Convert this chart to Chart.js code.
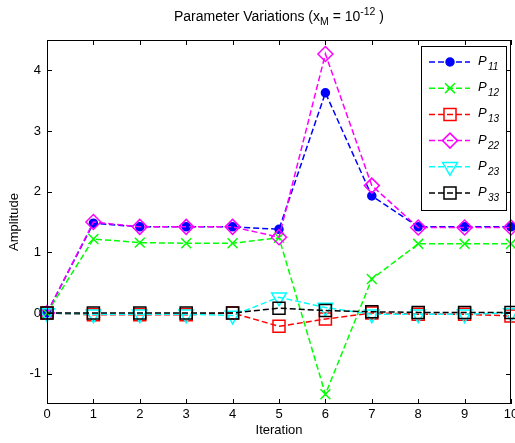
<!DOCTYPE html>
<html>
<head>
<meta charset="utf-8">
<script src="https://cdn.jsdelivr.net/npm/chart.js@4.4.1/dist/chart.umd.min.js"></script>
<style>
  html, body { margin: 0; padding: 0; background: #fff; }
</style>
</head>
<body>
<canvas id="chart" width="515" height="443"></canvas>
<script>
// données
const iterations = [0, 1, 2, 3, 4, 5, 6, 7, 8, 9, 10];
const p11 = [0, 1.48, 1.42, 1.42, 1.42, 1.38, 3.63, 1.93, 1.42, 1.42, 1.42];
const p12 = [0, 1.22, 1.16, 1.15, 1.15, 1.24, -1.34, 0.56, 1.14, 1.14, 1.14];
const p13 = [0, -0.03, -0.03, -0.03, 0, -0.22, -0.1, 0, -0.02, -0.02, -0.05];
const p22 = [0, 1.5, 1.42, 1.42, 1.42, 1.25, 4.27, 2.1, 1.41, 1.41, 1.41];
const p23 = [0, -0.02, -0.02, -0.02, -0.04, 0.26, 0.09, -0.02, -0.02, -0.02, 0];
const p33 = [0, 0, 0, 0, 0, 0.08, 0.04, 0.02, 0.01, 0.01, 0.01];

const xTicks = [0, 1, 2, 3, 4, 5, 6, 7, 8, 9, 10];
const yTicks = [-1, 0, 1, 2, 3, 4];

const titleMain = "Parameter Variations (x";
const titleSub = "M";
const titleMid = " = 10";
const titleSup = "-12";
const titleEnd = " )";

const FONT = '"Liberation Sans", Arial, Helvetica, sans-serif';

// sous-indice, couleur, style de point
const series = [
  { sub: "11", data: p11, color: "#0000ff", style: "circle", r: 4, fill: true },
  { sub: "12", data: p12, color: "#00ff00", style: "crossRot", r: 7, fill: false },
  { sub: "13", data: p13, color: "#ff0000", style: "rect", r: 8.5, fill: false },
  { sub: "22", data: p22, color: "#ff00ff", style: "rectRot", r: 7.5, fill: false },
  { sub: "23", data: p23, color: "#00ffff", style: "triangle", r: 8.5, fill: false },
  { sub: "33", data: p33, color: "#000000", style: "rect", r: 8.5, fill: false }
];

const datasets = series.map((s, i) => ({
  label: "P" + s.sub,
  data: s.data.map((v, k) => ({ x: iterations[k], y: v })),
  borderColor: s.color,
  borderWidth: 1.5,
  borderDash: [6, 3],
  pointStyle: s.style,
  pointRadius: s.r,
  pointRotation: s.style === "triangle" ? 180 : 0,
  pointBorderColor: s.color,
  pointBackgroundColor: s.fill ? s.color : "rgba(0,0,0,0)",
  pointBorderWidth: 1.5,
  order: series.length - i,
  clip: false,
  tension: 0
}));

// cadre, graduations intérieures, titre et légende façon MATLAB
const matlabDecor = {
  id: "matlabDecor",
  afterDatasetsDraw(chart) {
    const { ctx, chartArea: a, scales } = chart;
    ctx.save();
    ctx.strokeStyle = "#000";
    ctx.lineWidth = 1;
    ctx.setLineDash([]);
    ctx.strokeRect(a.left + 0.5, a.top + 0.5, a.right - a.left - 1, a.bottom - a.top - 1);
    ctx.beginPath();
    xTicks.forEach(v => {
      const px = Math.round(scales.x.getPixelForValue(v)) + 0.5;
      ctx.moveTo(px, a.bottom); ctx.lineTo(px, a.bottom - 5);
      ctx.moveTo(px, a.top); ctx.lineTo(px, a.top + 5);
    });
    yTicks.forEach(v => {
      const py = Math.round(scales.y.getPixelForValue(v)) + 0.5;
      ctx.moveTo(a.left, py); ctx.lineTo(a.left + 5, py);
      ctx.moveTo(a.right, py); ctx.lineTo(a.right - 5, py);
    });
    ctx.stroke();

    // étiquettes de l'axe x (dessinées ici pour que "10" déborde comme l'original)
    ctx.fillStyle = "#000";
    ctx.font = "13px " + FONT;
    ctx.textAlign = "center";
    ctx.textBaseline = "top";
    xTicks.forEach(v => {
      ctx.fillText(String(v), scales.x.getPixelForValue(v), a.bottom + 4);
    });
    ctx.restore();
  },
  afterDraw(chart) {
    const { ctx, chartArea: a } = chart;
    ctx.save();
    ctx.fillStyle = "#000";
    ctx.textBaseline = "alphabetic";

    // titre
    const big = "14px " + FONT, small = "10.5px " + FONT;
    ctx.font = big;
    const w1 = ctx.measureText(titleMain).width;
    const w3 = ctx.measureText(titleMid).width;
    const w5 = ctx.measureText(titleEnd).width;
    ctx.font = small;
    const w2 = ctx.measureText(titleSub).width;
    const w4 = ctx.measureText(titleSup).width;
    let x = (a.left + a.right) / 2 - (w1 + w2 + w3 + w4 + w5) / 2;
    const base = 21;
    ctx.textAlign = "left";
    ctx.font = big; ctx.fillText(titleMain, x, base); x += w1;
    ctx.font = small; ctx.fillText(titleSub, x, base + 4); x += w2;
    ctx.font = big; ctx.fillText(titleMid, x, base); x += w3;
    ctx.font = small; ctx.fillText(titleSup, x, base - 6); x += w4;
    ctx.font = big; ctx.fillText(titleEnd, x, base);

    // légende
    const lx = 421, ly = 46, lw = 85, lh = 164;
    ctx.fillStyle = "#fff";
    ctx.fillRect(lx, ly, lw, lh);
    ctx.strokeStyle = "#000";
    ctx.lineWidth = 1;
    ctx.strokeRect(lx + 0.5, ly + 0.5, lw, lh);
    series.forEach((s, i) => {
      const cy = 62 + i * 26.2;
      ctx.save();
      ctx.strokeStyle = s.color;
      ctx.lineWidth = 1.5;
      ctx.setLineDash([6, 3]);
      ctx.beginPath();
      ctx.moveTo(429, cy); ctx.lineTo(470, cy);
      ctx.stroke();
      ctx.restore();
      ctx.save();
      ctx.strokeStyle = s.color;
      ctx.fillStyle = s.fill ? s.color : "rgba(0,0,0,0)";
      ctx.lineWidth = 1.5;
      Chart.helpers.drawPoint(ctx, {
        pointStyle: s.style,
        rotation: s.style === "triangle" ? 180 : 0,
        radius: s.r,
        borderWidth: 1.5
      }, 450, cy);
      ctx.restore();
      ctx.fillStyle = "#000";
      ctx.font = "italic 13px " + FONT;
      ctx.fillText("P", 478, cy + 3);
      ctx.font = "italic 10px " + FONT;
      ctx.fillText(s.sub, 488, cy + 8);
    });
    ctx.restore();
  }
};

new Chart(document.getElementById("chart"), {
  type: "line",
  data: { datasets: datasets },
  plugins: [matlabDecor],
  options: {
    responsive: false,
    animation: false,
    devicePixelRatio: 1,
    layout: { autoPadding: false, padding: { left: 0, top: 40, right: 4, bottom: 0 } },
    plugins: {
      legend: { display: false },
      title: { display: false },
      tooltip: { enabled: false }
    },
    scales: {
      x: {
        type: "linear",
        min: 0,
        max: 10,
        afterBuildTicks: s => { s.ticks = xTicks.map(v => ({ value: v })); },
        afterFit: s => { s.height = 39; },
        grid: { display: false, drawTicks: false },
        border: { display: false },
        ticks: { display: false },
        title: { display: true, text: "Iteration", color: "#000", font: { family: FONT, size: 13 }, padding: { top: 0, bottom: 5 } }
      },
      y: {
        type: "linear",
        min: -1.5,
        max: 4.5,
        afterBuildTicks: s => { s.ticks = yTicks.map(v => ({ value: v })); },
        afterFit: s => { s.width = 47; },
        grid: { display: false, drawTicks: false },
        border: { display: false },
        ticks: { color: "#000", font: { family: FONT, size: 13 }, padding: 6 },
        title: { display: true, text: "Amplitude", color: "#000", font: { family: FONT, size: 13 }, padding: { top: 7, bottom: 0 } }
      }
    }
  }
});
</script>
</body>
</html>
